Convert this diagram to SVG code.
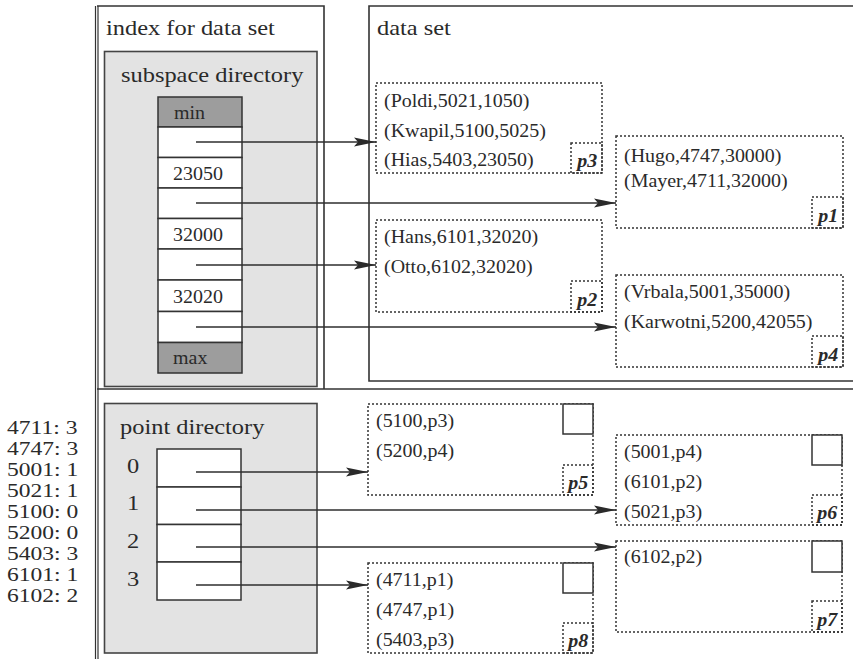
<svg xmlns="http://www.w3.org/2000/svg" width="853" height="659" viewBox="0 0 853 659">
<defs>
<marker id="ah" markerUnits="userSpaceOnUse" markerWidth="24" markerHeight="10" refX="22" refY="5" orient="auto"><path d="M0,0.6 L22,5 L0,9.4 L4,5 Z" fill="#2a2a2a"/></marker>
</defs>
<style>
text{font-family:"Liberation Serif","Times New Roman",serif;fill:#2a2a2a;transform-box:fill-box;transform-origin:0 0;transform:scaleX(1.11)}
.h{font-size:22px}
.k{font-size:19px;transform:scaleX(1.24)}
.d{font-size:18px}
.b{font-size:18px;font-weight:bold;font-style:italic}
.frame{fill:none;stroke:#333;stroke-width:1.6}
.dir{fill:#e3e3e3;stroke:#444;stroke-width:1.6}
.cell{fill:#fff;stroke:#333;stroke-width:1.5}
.dark{fill:#9d9d9d;stroke:#333;stroke-width:1.5}
.dot{fill:#fff;stroke:#333;stroke-width:1.5;stroke-dasharray:2 2}
.lab{fill:none;stroke:#333;stroke-width:1.5;stroke-dasharray:2 2}
.sq{fill:#fff;stroke:#333;stroke-width:1.5}
.conn line{stroke:#2e2e2e;stroke-width:1.6;marker-end:url(#ah)}
</style>
<rect width="853" height="659" fill="#fff"/>

<g id="frames">
<line x1="95.5" y1="6" x2="95.5" y2="659" stroke="#333" stroke-width="1.2"/>
<line x1="98" y1="6" x2="98" y2="659" stroke="#333" stroke-width="1.2"/>
<polyline class="frame" points="97,6 324,6 324,389"/>
<polyline class="frame" points="855,6 369,6 369,381 855,381"/>
<line class="frame" x1="97" y1="389" x2="855" y2="389"/>
<text class="h" x="106" y="35">index for data set</text>
<text class="h" x="377" y="35">data set</text>
</g>

<g id="subspace-directory">
<rect class="dir" x="104.5" y="51.5" width="212.5" height="335"/>
<text class="h" x="121" y="82">subspace directory</text>
<rect class="dark" x="158" y="97" width="84" height="30"/>
<rect class="cell" x="158" y="127" width="84" height="30.5"/>
<rect class="cell" x="158" y="157.5" width="84" height="30.5"/>
<rect class="cell" x="158" y="188" width="84" height="30.5"/>
<rect class="cell" x="158" y="218.5" width="84" height="30.5"/>
<rect class="cell" x="158" y="249" width="84" height="31"/>
<rect class="cell" x="158" y="280" width="84" height="31.5"/>
<rect class="cell" x="158" y="311.5" width="84" height="31"/>
<rect class="dark" x="158" y="342.5" width="84" height="30.5"/>
<text class="d" x="174" y="119">min</text>
<text class="d" x="173" y="180">23050</text>
<text class="d" x="173" y="241">32000</text>
<text class="d" x="173" y="303">32020</text>
<text class="d" x="173" y="364">max</text>
</g>

<g id="point-directory">
<rect class="dir" x="104.5" y="403.5" width="212.5" height="249.5"/>
<text class="h" x="120" y="434">point directory</text>
<rect class="cell" x="157" y="449" width="84" height="38"/>
<rect class="cell" x="157" y="487" width="84" height="37.5"/>
<rect class="cell" x="157" y="524.5" width="84" height="37.5"/>
<rect class="cell" x="157" y="562" width="84" height="38"/>
<text class="h" x="127" y="473">0</text>
<text class="h" x="127" y="510">1</text>
<text class="h" x="127" y="548">2</text>
<text class="h" x="127" y="586">3</text>
</g>

<g id="key-list">
<text class="k" x="7" y="434">4711: 3</text>
<text class="k" x="7" y="455">4747: 3</text>
<text class="k" x="7" y="476">5001: 1</text>
<text class="k" x="7" y="497">5021: 1</text>
<text class="k" x="7" y="518">5100: 0</text>
<text class="k" x="7" y="539">5200: 0</text>
<text class="k" x="7" y="560">5403: 3</text>
<text class="k" x="7" y="581">6101: 1</text>
<text class="k" x="7" y="602">6102: 2</text>
</g>

<g id="p3">
<rect class="dot" x="376" y="83" width="226" height="90"/>
<rect class="lab" x="571" y="143" width="31" height="30"/>
<text class="d" x="384" y="107">(Poldi,5021,1050)</text>
<text class="d" x="384" y="137">(Kwapil,5100,5025)</text>
<text class="d" x="384" y="166">(Hias,5403,23050)</text>
<text class="b" x="577" y="167">p3</text>
</g>

<g id="p1">
<rect class="dot" x="616" y="136" width="227" height="92"/>
<rect class="lab" x="812" y="197" width="31" height="31"/>
<text class="d" x="624" y="162">(Hugo,4747,30000)</text>
<text class="d" x="624" y="187">(Mayer,4711,32000)</text>
<text class="b" x="818" y="222">p1</text>
</g>

<g id="p2">
<rect class="dot" x="376" y="220" width="226" height="92"/>
<rect class="lab" x="571" y="281" width="31" height="31"/>
<text class="d" x="384" y="243">(Hans,6101,32020)</text>
<text class="d" x="384" y="273">(Otto,6102,32020)</text>
<text class="b" x="577" y="306">p2</text>
</g>

<g id="p4">
<rect class="dot" x="616" y="275" width="227" height="92"/>
<rect class="lab" x="812" y="336" width="31" height="31"/>
<text class="d" x="624" y="298">(Vrbala,5001,35000)</text>
<text class="d" x="624" y="328">(Karwotni,5200,42055)</text>
<text class="b" x="818" y="361">p4</text>
</g>

<g id="p5">
<rect class="dot" x="368" y="404" width="225" height="91"/>
<rect class="sq" x="563" y="404" width="30" height="30"/>
<rect class="lab" x="563" y="465" width="30" height="30"/>
<text class="d" x="376" y="427">(5100,p3)</text>
<text class="d" x="376" y="457">(5200,p4)</text>
<text class="b" x="568" y="489">p5</text>
</g>

<g id="p6">
<rect class="dot" x="616" y="435" width="226" height="90"/>
<rect class="sq" x="812" y="435" width="30" height="30"/>
<rect class="lab" x="812" y="495" width="30" height="30"/>
<text class="d" x="624" y="458">(5001,p4)</text>
<text class="d" x="624" y="488">(6101,p2)</text>
<text class="d" x="624" y="518">(5021,p3)</text>
<text class="b" x="817" y="519">p6</text>
</g>

<g id="p7">
<rect class="dot" x="616" y="541" width="226" height="91"/>
<rect class="sq" x="812" y="541" width="30" height="31"/>
<rect class="lab" x="812" y="601" width="30" height="31"/>
<text class="d" x="624" y="563">(6102,p2)</text>
<text class="b" x="817" y="626">p7</text>
</g>

<g id="p8">
<rect class="dot" x="368" y="563" width="225" height="90"/>
<rect class="sq" x="563" y="563" width="30" height="30"/>
<rect class="lab" x="563" y="623" width="30" height="30"/>
<text class="d" x="376" y="586">(4711,p1)</text>
<text class="d" x="376" y="616">(4747,p1)</text>
<text class="d" x="376" y="646">(5403,p3)</text>
<text class="b" x="568" y="647">p8</text>
</g>

<g id="connectors" class="conn">
<line x1="196" y1="142" x2="376" y2="142"/>
<line x1="196" y1="203" x2="616" y2="203"/>
<line x1="196" y1="265" x2="376" y2="265"/>
<line x1="196" y1="327" x2="616" y2="327"/>
<line x1="196" y1="472" x2="368" y2="472"/>
<line x1="196" y1="510" x2="616" y2="510"/>
<line x1="196" y1="547" x2="616" y2="547"/>
<line x1="196" y1="585" x2="368" y2="585"/>
</g>
</svg>
